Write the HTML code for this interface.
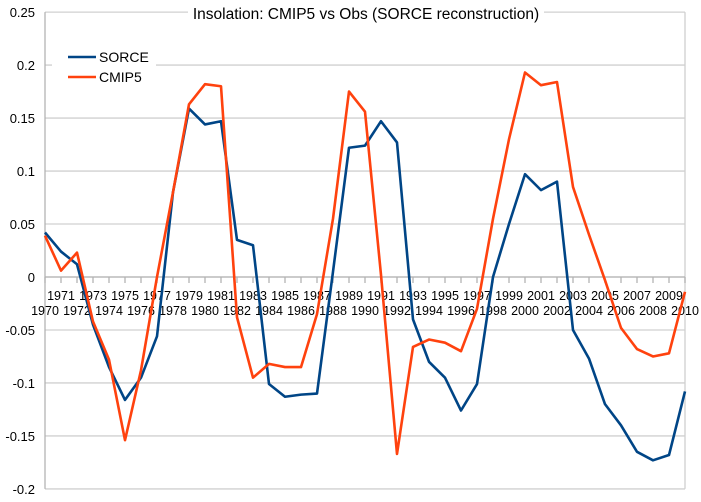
<!DOCTYPE html>
<html><head><meta charset="utf-8"><style>
body{margin:0;background:#fff}
svg{display:block;font-family:"Liberation Sans",sans-serif}
</style></head><body>
<svg id="chart" width="701" height="502">
<g id="grid"></g>
<g id="yticks"></g>
<g id="xticks"></g>
<g id="series"></g>
<rect x="52" y="45" width="104" height="44" fill="#fff"/>
<g>
<line x1="68" y1="57" x2="96" y2="57" stroke="#004586" stroke-width="2.5"/>
<text x="99" y="62" font-size="14" fill="#000">SORCE</text>
<line x1="68" y1="77" x2="96" y2="77" stroke="#ff420e" stroke-width="2.5"/>
<text x="99" y="82" font-size="14" fill="#000">CMIP5</text>
</g>
<rect x="188" y="3" width="356" height="20" fill="#fff"/>
<text x="366" y="19" font-size="15.5" text-anchor="middle" fill="#000">Insolation: CMIP5 vs Obs (SORCE reconstruction)</text>
</svg>
<script>
const years=[];for(let y=1970;y<=2010;y++)years.push(y);
const sorce=[0.042,0.024,0.012,-0.045,-0.085,-0.116,-0.095,-0.056,0.08,0.159,0.144,0.147,0.035,0.030,-0.101,-0.113,-0.111,-0.110,0.005,0.122,0.124,0.147,0.127,-0.040,-0.080,-0.095,-0.126,-0.101,0.0,0.05,0.097,0.082,0.090,-0.050,-0.077,-0.120,-0.140,-0.165,-0.173,-0.168,-0.108];
const cmip5=[0.039,0.006,0.023,-0.042,-0.078,-0.154,-0.088,0.0,0.08,0.163,0.182,0.180,-0.038,-0.095,-0.082,-0.085,-0.085,-0.035,0.055,0.175,0.156,0.002,-0.167,-0.066,-0.059,-0.062,-0.070,-0.030,0.055,0.13,0.193,0.181,0.184,0.085,0.040,-0.003,-0.048,-0.068,-0.075,-0.072,-0.014];
const yTicks=[0.25,0.2,0.15,0.1,0.05,0,-0.05,-0.1,-0.15,-0.2];
const yTickLabels=["0.25","0.2","0.15","0.1","0.05","0","-0.05","-0.1","-0.15","-0.2"];
const X0=45,X1=685,Y0=277,PX=1059.6;
const xs=y=>X0+(y-1970)*(X1-X0)/40;
const ys=v=>Y0-v*PX;
const NS="http://www.w3.org/2000/svg";
function mk(p,t,a){const e=document.createElementNS(NS,t);for(const k in a)e.setAttribute(k,a[k]);p.appendChild(e);return e;}
const grid=document.getElementById('grid'),yt=document.getElementById('yticks'),xt=document.getElementById('xticks'),se=document.getElementById('series');
yTicks.forEach((v,i)=>{
 const l=mk(grid,'line',{x1:X0,x2:X1,y1:ys(v),y2:ys(v),stroke:'#d0d0d0','stroke-width':1.3});
 
 
 const t=mk(yt,'text',{x:35,y:ys(v)+5,'font-size':13,'text-anchor':'end',fill:'#000'});t.textContent=yTickLabels[i];
 
 
});
const ya=mk(yt,'line',{x1:X0,x2:X0,y1:ys(0.25),y2:ys(-0.2),stroke:'#b3b3b3','stroke-width':1.3});


const ra=mk(yt,'line',{x1:X1,x2:X1,y1:ys(0.25),y2:ys(-0.2),stroke:'#d0d0d0','stroke-width':1.3});


const xa=mk(xt,'line',{x1:X0,x2:X1,y1:Y0,y2:Y0,stroke:'#b3b3b3','stroke-width':1.3});


years.forEach((y,i)=>{
 const tk=mk(xt,'line',{x1:xs(y),x2:xs(y),y1:Y0,y2:Y0+6,stroke:'#b3b3b3','stroke-width':1.3});
 
 
 const t=mk(xt,'text',{x:xs(y),y:i%2?300:315,'font-size':12.5,'text-anchor':'middle',fill:'#000'});t.textContent=y;
 
 
});
function line(d,c,n){const p=mk(se,'polyline',{points:d.map((v,i)=>xs(years[i])+','+ys(v)).join(' '),fill:'none',stroke:c,'stroke-width':2.6,'stroke-linejoin':'round'});
 
 }
line(sorce,'#004586','sorce-line');
line(cmip5,'#ff420e','cmip5-line');
</script>
</body></html>
